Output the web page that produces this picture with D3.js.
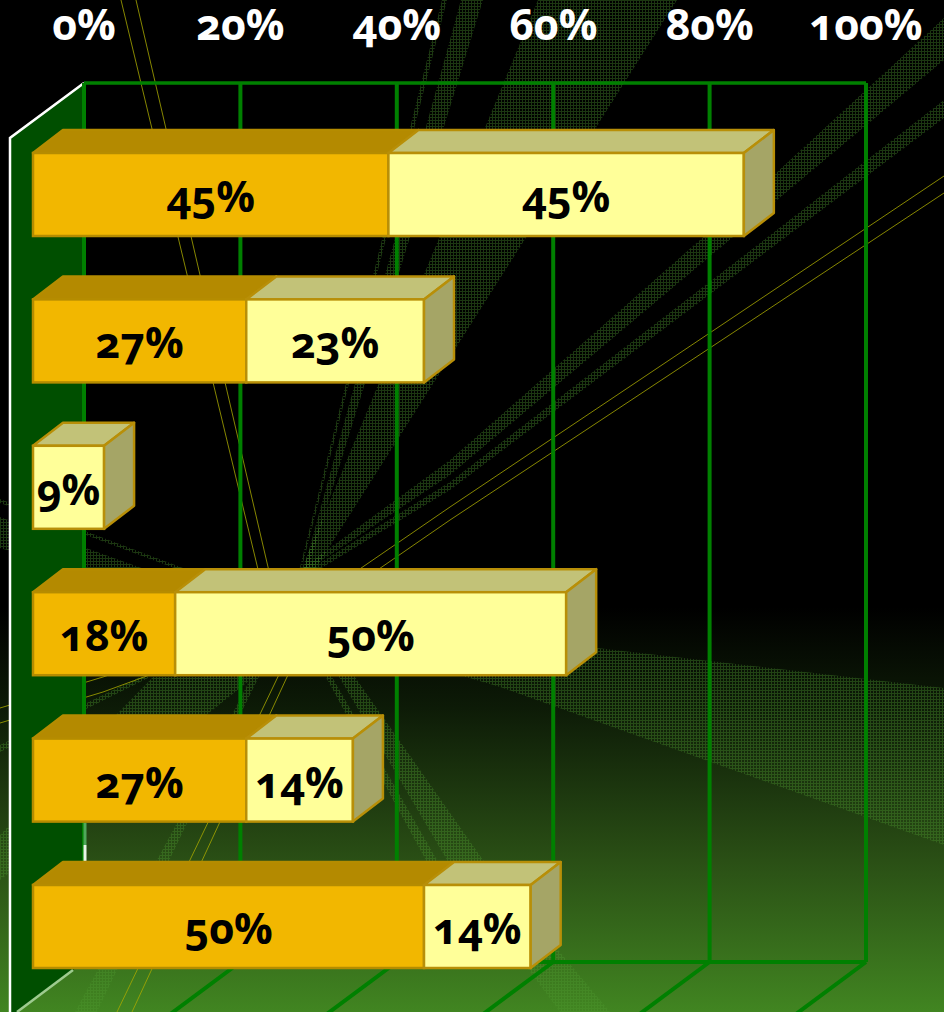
<!DOCTYPE html>
<html>
<head>
<meta charset="utf-8">
<script src="https://cdn.jsdelivr.net/npm/d3@7"></script>
<style>
  html, body { margin: 0; padding: 0; background: #000; overflow: hidden; }
  svg { display: block; }
  text { font-family: "Open Sans", "Noto Sans", sans-serif; font-weight: 700; font-feature-settings: "onum" 1; }
</style>
</head>
<body>
<div id="chart"></div>
<script>
// values
const rows = ["r1", "r2", "r3", "r4", "r5", "r6"];
const orangeValues = [45.45, 27.27, 0, 18.18, 27.27, 50];
const yellowValues = [45.45, 22.73, 9.09, 50, 13.64, 13.64];
const tickValues = [0, 20, 40, 60, 80, 100];

// background decoration, not data
const hatchBands = [
  [[538,0],[677,0],[316,568],[302,568]],
  [[461,0],[483,0],[306,575],[302,575]],
  [[442,0],[447,0],[300,575],[298,575]],
  [[944,18],[776,173],[450,460],[293,575],[300,575],[450,475],[777,200],[944,60]],
  [[944,100],[751,250],[450,482],[300,575],[310,575],[450,490],[944,118]],
  [[0,517],[0,548],[300,640],[300,625]],
  [[0,499],[0,503],[300,615],[300,612]],
  [[203,677],[153,677],[0,835],[0,880],[300,640]],
  [[140,677],[0,745],[0,752],[150,677]],
  [[300,630],[597,648],[944,688],[944,845],[500,687],[340,640]],
  [[335,670],[350,670],[483,860],[610,1012],[560,1012],[447,860]],
  [[322,670],[328,670],[437,860],[445,875],[434,875]],
  [[265,650],[272,650],[187,823],[97,1012],[75,1012],[177,823]]
];
const yellowRays = [
  [[121,0],[275,640]],
  [[136,0],[285,640]],
  [[944,176],[450,507],[300,610]],
  [[944,193],[450,520],[305,620]],
  [[0,708],[103,677],[300,610]],
  [[0,723],[103,692],[300,620]],
  [[117,1012],[310,610]],
  [[132,1012],[318,610]]
];

const width = 944, height = 1012;
const gridTop = 83, gridBottom = 962;
const depthX = 30, depthY = 23;      // depth of the bars
const floorX = 74, floorY = 55;      // depth of the floor
const gridColor = "#008000";

const svg = d3.select("#chart").append("svg")
  .attr("width", width)
  .attr("height", height);

const defs = svg.append("defs");

const grad = defs.append("linearGradient")
  .attr("id", "bg")
  .attr("x1", 0).attr("y1", 0).attr("x2", 0).attr("y2", 1);
[[0, "#000"], [0.6, "#000"], [0.7, "#0d1b07"], [0.85, "#2a4f15"], [1, "#418521"]].forEach(s => {
  grad.append("stop").attr("offset", s[0]).attr("stop-color", s[1]);
});

const hatch = defs.append("pattern")
  .attr("id", "hatch")
  .attr("width", 3).attr("height", 3)
  .attr("patternUnits", "userSpaceOnUse");
hatch.append("rect").attr("width", 3).attr("height", 1).attr("fill", "#4f9a30").attr("fill-opacity", 0.36);
hatch.append("rect").attr("y", 1).attr("width", 1).attr("height", 2).attr("fill", "#4f9a30").attr("fill-opacity", 0.36);

svg.append("rect").attr("width", width).attr("height", height).attr("fill", "url(#bg)");

const polyLine = d3.line();

svg.append("g").selectAll("path")
  .data(hatchBands)
  .join("path")
    .attr("d", d => polyLine(d) + "Z")
    .attr("fill", "url(#hatch)");

svg.append("g").selectAll("path")
  .data(yellowRays)
  .join("path")
    .attr("d", d => polyLine(d))
    .attr("fill", "none")
    .attr("stroke", "#a8a800")
    .attr("stroke-width", 0.8);

// Scales: back plane of the plot and front plane of the bars
const xBack = d3.scaleLinear().domain([0, 100]).range([84, 866]);
const xFront = d3.scaleLinear().domain([0, 100]).range([33, 815]);
const y = d3.scaleBand().domain(rows).range([153, 968]).paddingInner(0.433).paddingOuter(0);

// Left wall
svg.append("path")
  .attr("d", polyLine([
    [xBack(0), gridTop], [xBack(0) - floorX, gridTop + floorY],
    [xBack(0) - floorX, gridBottom + floorY], [xBack(0), gridBottom]
  ]) + "Z")
  .attr("fill", "#004f00");
svg.append("path")
  .attr("d", polyLine([[xBack(0), gridTop], [xBack(0) - floorX, gridTop + floorY], [xBack(0) - floorX, height]]))
  .attr("fill", "none")
  .attr("stroke", "#fff")
  .attr("stroke-width", 2.5);

// Grid
const gridAxis = d3.axisBottom(xBack).tickValues(tickValues).tickSize(gridBottom - gridTop).tickFormat("").offset(0);
const gridG = svg.append("g").attr("transform", `translate(0,${gridTop})`).call(gridAxis);
gridG.select(".domain").remove();
gridG.selectAll("line").attr("stroke", gridColor).attr("stroke-width", 4);

svg.append("line")
  .attr("x1", xBack(0)).attr("x2", xBack(100))
  .attr("y1", gridTop).attr("y2", gridTop)
  .attr("stroke", gridColor).attr("stroke-width", 3.5);
svg.append("line")
  .attr("x1", xBack(0)).attr("x2", xBack(100))
  .attr("y1", gridBottom).attr("y2", gridBottom)
  .attr("stroke", gridColor).attr("stroke-width", 4);
svg.append("g").selectAll("line")
  .data(tickValues.slice(1))
  .join("line")
    .attr("x1", d => xBack(d)).attr("y1", gridBottom)
    .attr("x2", d => xBack(d) - floorX).attr("y2", gridBottom + floorY)
    .attr("stroke", gridColor).attr("stroke-width", 4);

// pale bottom edge of the wall and the pale bit of its back edge
svg.append("path")
  .attr("d", polyLine([[xBack(0) - 11, gridBottom + 8], [xBack(0) - floorX + 7, height]]))
  .attr("stroke", "#9ecb8f")
  .attr("stroke-width", 2.5);
svg.append("line")
  .attr("x1", xBack(0) + 1).attr("x2", xBack(0) + 1)
  .attr("y1", 823).attr("y2", 845)
  .attr("stroke", "#4fa85a").attr("stroke-width", 3);
svg.append("line")
  .attr("x1", xBack(0) + 1).attr("x2", xBack(0) + 1)
  .attr("y1", 845).attr("y2", 862)
  .attr("stroke", "#e8f4e8").attr("stroke-width", 3);

// Top axis labels
const topAxis = d3.axisTop(xBack).tickValues(tickValues).tickSize(0).tickPadding(0).tickFormat(d => d + "%").offset(0);
const axisG = svg.append("g").attr("transform", "translate(0,40)").call(topAxis);
axisG.select(".domain").remove();
axisG.selectAll("text")
  .attr("fill", "#fff")
  .style("font-size", "43px")
  .style("font-family", null);

// Bars
const stacks = rows.map((r, i) => ({
  row: r,
  orange: [0, orangeValues[i]],
  yellow: [orangeValues[i], orangeValues[i] + yellowValues[i]]
}));

const barStroke = "#b88f08";

function drawSegment(sel, key, frontFill, topFill, frontStroke) {
  const g = sel.selectAll("g." + key)
    .data(stacks.filter(d => d[key][1] > d[key][0]))
    .join("g")
      .attr("class", key);

  // top face
  g.append("path")
    .attr("d", d => {
      const x0 = xFront(d[key][0]), x1 = xFront(d[key][1]), t = y(d.row);
      return polyLine([[x0, t], [x0 + depthX, t - depthY], [x1 + depthX, t - depthY], [x1, t]]) + "Z";
    })
    .attr("fill", topFill)
    .attr("stroke", frontStroke)
    .attr("stroke-width", 2.5)
    .attr("stroke-linejoin", "round");

  // front face
  g.append("rect")
    .attr("x", d => xFront(d[key][0]))
    .attr("y", d => y(d.row))
    .attr("width", d => xFront(d[key][1]) - xFront(d[key][0]))
    .attr("height", y.bandwidth())
    .attr("fill", frontFill)
    .attr("stroke", frontStroke)
    .attr("stroke-width", 2.5);

  // value label
  g.append("text")
    .attr("x", d => (xFront(d[key][0]) + xFront(d[key][1])) / 2)
    .attr("y", d => y(d.row) + 59)
    .attr("text-anchor", "middle")
    .attr("fill", "#000")
    .style("font-size", "43px")
    .text(d => Math.round(d[key][1] - d[key][0]) + "%");
}

const barsG = svg.append("g");

drawSegment(barsG, "orange", "#f2b700", "#b48a00", "#b58c00");
drawSegment(barsG, "yellow", "#ffff99", "#c2c278", barStroke);

// right side face of each bar
barsG.selectAll("path.side")
  .data(stacks)
  .join("path")
    .attr("class", "side")
    .attr("d", d => {
      const x1 = xFront(d.yellow[1]), t = y(d.row), b = t + y.bandwidth();
      return polyLine([[x1, t], [x1 + depthX, t - depthY], [x1 + depthX, b - depthY], [x1, b]]) + "Z";
    })
    .attr("fill", "#a5a566")
    .attr("stroke", barStroke)
    .attr("stroke-width", 2.5)
    .attr("stroke-linejoin", "round");
</script>
</body>
</html>
